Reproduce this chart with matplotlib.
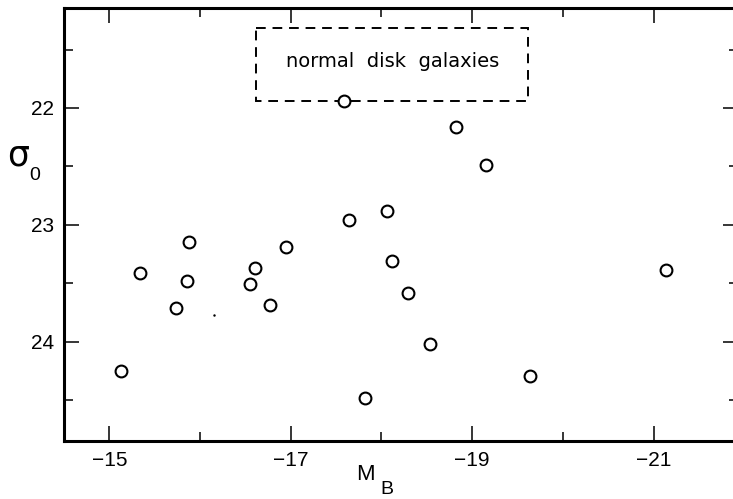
#!/usr/bin/env python3
# Central surface brightness vs absolute magnitude, normal disk galaxies
import matplotlib
matplotlib.use("Agg")
from matplotlib import pyplot as plt
from matplotlib.patches import Rectangle
from matplotlib.ticker import MultipleLocator

absMag = [-15.13, -15.34, -15.86, -15.73, -15.88, -16.55, -16.61, -16.95, -16.77,
          -17.59, -17.64, -18.06, -18.12, -18.29, -18.53, -17.82, -18.82, -19.15,
          -19.64, -21.14]
sigma0 = [24.25, 23.41, 23.48, 23.71, 23.15, 23.51, 23.37, 23.19, 23.69,
          21.94, 22.96, 22.88, 23.31, 23.58, 24.02, 24.48, 22.16, 22.49,
          24.29, 23.39]
strayDot = [(-16.15, 23.77)]
xTicks = [-15, -17, -19, -21]
yTicks = [22, 23, 24]
boxLabel = "normal  disk  galaxies"

plt.rcParams["font.family"] = ["Liberation Sans", "DejaVu Sans"]

W, H = 733, 499
fig = plt.figure(figsize=(W/100, H/100), dpi=100)
ax = fig.add_axes([64/W, 1 - 441/H, 674/W, 433.5/H])

ax.plot(absMag, sigma0, linestyle="none", marker="o", markersize=8.5,
        markerfacecolor="white", markeredgecolor="black", markeredgewidth=1.5, zorder=3)
ax.plot([p[0] for p in strayDot], [p[1] for p in strayDot], linestyle="none",
        marker=".", markersize=1.5, color="black")

ax.set_xlim(-14.5, -21.93)
ax.set_ylim(24.85, 21.14)

ax.xaxis.set_minor_locator(MultipleLocator(1))
ax.yaxis.set_minor_locator(MultipleLocator(0.5))
ax.set_xticks(xTicks)
ax.set_yticks(yTicks)

for side in ax.spines.values():
    side.set_linewidth(2.2)
ax.tick_params(which="both", direction="in", top=True, right=True, width=1.1, labelsize=15)
ax.tick_params(which="major", length=11, pad=7)
ax.tick_params(which="minor", length=6.5)

# dashed label box
ax.add_patch(Rectangle((-16.62, 21.316), -2.99, 0.627, fill=False, edgecolor="black",
                       linewidth=1.4, linestyle=(0, (5, 3.5)), zorder=2))
ax.text(-18.12, 21.6, boxLabel, ha="center", va="center", fontsize=14,
        family="DejaVu Sans")

# axis labels, placed by figure pixels
def figText(x, y, s, size, **kw):
    fig.text(x/W, 1 - y/H, s, ha="center", va="center", fontsize=size, **kw)

figText(365, 475, "M", 16)
figText(387, 489, "B", 14)
figText(18, 156, "σ", 25, family="DejaVu Sans")
figText(35, 176, "0", 14)

fig.savefig("out.png", dpi=100)
